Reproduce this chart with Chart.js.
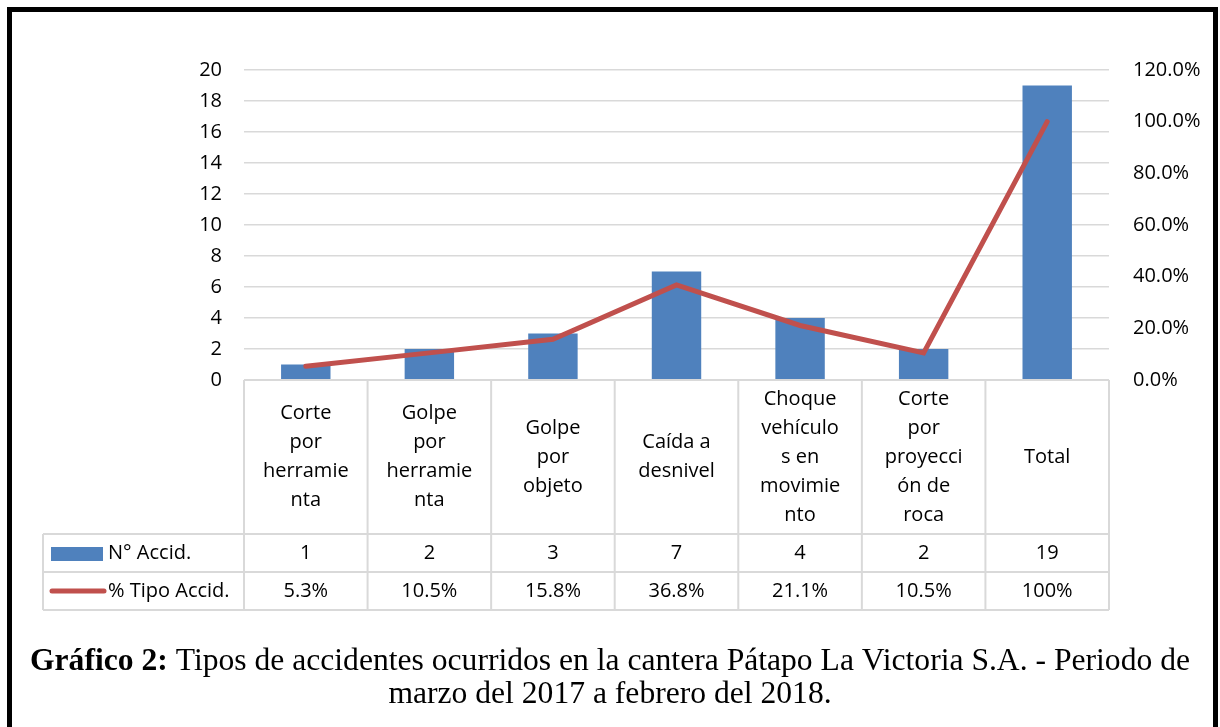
<!DOCTYPE html>
<html>
<head>
    <meta charset="UTF-8">
    <title>Tipos de accidentes</title>
    <script src="https://cdn.jsdelivr.net/npm/chart.js"></script>
    <style>
        html, body { margin: 0; padding: 0; background: #fff; }
        .chart-container { position: relative; width: 1220px; height: 727px; }
    </style>
</head>
<body>
    <div class="chart-container">
        <canvas id="accChart"></canvas>
    </div>
    <script>
        // datos
        const categorias = [
            ['Corte', 'por', 'herramie', 'nta'],
            ['Golpe', 'por', 'herramie', 'nta'],
            ['Golpe', 'por', 'objeto'],
            ['Caída a', 'desnivel'],
            ['Choque', 'vehículo', 's en', 'movimie', 'nto'],
            ['Corte', 'por', 'proyecci', 'ón de', 'roca'],
            ['Total']
        ];
        const numAccid = [1, 2, 3, 7, 4, 2, 19];
        const pctTipo = [0.053, 0.105, 0.158, 0.368, 0.211, 0.105, 1.0];
        const pctEtiquetas = ['5.3%', '10.5%', '15.8%', '36.8%', '21.1%', '10.5%', '100%'];
        const serieNombres = ['N° Accid.', '% Tipo Accid.'];

        const AZUL = '#4f81bd';
        const ROJO = '#c0504d';
        const GRIS = '#d9d9d9';
        const FUENTE = '"Open Sans", sans-serif';

        // tabla de datos + leyenda + titulo, dibujados sobre la escala x
        const tablaPlugin = {
            id: 'tabla',
            afterDraw(chart) {
                const ctx = chart.ctx;
                const x = chart.scales.x;
                const area = chart.chartArea;
                const n = categorias.length;
                const ancho = (area.right - area.left) / n;
                const yTop = area.bottom, yH = 534, yR1 = 572, yR2 = 610, xLeg = 43;

                ctx.save();
                ctx.strokeStyle = GRIS;
                ctx.lineWidth = 2;
                ctx.beginPath();
                ctx.moveTo(area.left, yTop); ctx.lineTo(area.right, yTop);
                [yH, yR1, yR2].forEach(y => { ctx.moveTo(xLeg, y); ctx.lineTo(area.right, y); });
                for (let i = 0; i <= n; i++) {
                    const xx = area.left + i * ancho;
                    ctx.moveTo(xx, yTop); ctx.lineTo(xx, yR2);
                }
                ctx.moveTo(xLeg, yH); ctx.lineTo(xLeg, yR2);
                ctx.stroke();

                ctx.fillStyle = '#000';
                ctx.font = '20px ' + FUENTE;
                ctx.textAlign = 'center';
                ctx.textBaseline = 'middle';
                const lh = 29;
                categorias.forEach((lineas, i) => {
                    const cx = x.getPixelForValue(i);
                    const y0 = (yTop + yH) / 2 - (lineas.length - 1) * lh / 2;
                    lineas.forEach((t, j) => ctx.fillText(t, cx, y0 + j * lh));
                    ctx.fillText(String(numAccid[i]), cx, (yH + yR1) / 2);
                    ctx.fillText(pctEtiquetas[i], cx, (yR1 + yR2) / 2);
                });

                // leyenda
                ctx.fillStyle = AZUL;
                ctx.fillRect(51, 547, 52, 14);
                ctx.strokeStyle = ROJO;
                ctx.lineWidth = 5;
                ctx.lineCap = 'round';
                ctx.beginPath();
                ctx.moveTo(52, 591); ctx.lineTo(104, 591);
                ctx.stroke();
                ctx.fillStyle = '#000';
                ctx.textAlign = 'left';
                ctx.fillText(serieNombres[0], 108, (yH + yR1) / 2);
                ctx.fillText(serieNombres[1], 108, (yR1 + yR2) / 2);

                // titulo
                const b = 'Gráfico 2:';
                const r1 = ' Tipos de accidentes ocurridos en la cantera Pátapo La Victoria S.A. - Periodo de';
                const r2 = 'marzo del 2017 a febrero del 2018.';
                const fb = 'bold 31px "Liberation Serif", serif';
                const fr = '31px "Liberation Serif", serif';
                ctx.font = fb; const wb = ctx.measureText(b).width;
                ctx.font = fr; const w1 = ctx.measureText(r1).width;
                const w2 = ctx.measureText(r2).width;
                const sx = 1160 / (wb + w1);
                ctx.save();
                ctx.translate(610, 0);
                ctx.scale(sx, 1);
                const start = -(wb + w1) / 2;
                ctx.font = fb; ctx.fillText(b, start, 662);
                ctx.font = fr; ctx.fillText(r1, start + wb, 662);
                ctx.fillText(r2, -w2 / 2, 695);
                ctx.restore();

                // marco
                ctx.strokeStyle = '#000';
                ctx.lineWidth = 5;
                ctx.lineCap = 'butt';
                ctx.strokeRect(9.5, 9.5, 1206, 730);
                ctx.restore();
            }
        };

        new Chart(document.getElementById('accChart'), {
            type: 'bar',
            data: {
                labels: categorias.map(c => c.join(' ')),
                datasets: [{
                    type: 'line',
                    label: serieNombres[1],
                    data: pctTipo,
                    borderColor: ROJO,
                    backgroundColor: ROJO,
                    borderWidth: 5,
                    borderCapStyle: 'round',
                    pointRadius: 0,
                    tension: 0,
                    yAxisID: 'y1',
                    order: 0
                }, {
                    label: serieNombres[0],
                    data: numAccid,
                    backgroundColor: AZUL,
                    barPercentage: 0.4,
                    categoryPercentage: 1,
                    yAxisID: 'y',
                    order: 1
                }]
            },
            options: {
                responsive: true,
                maintainAspectRatio: false,
                animation: false,
                layout: { padding: { top: 70, bottom: 347, left: 0, right: 0 } },
                plugins: { legend: { display: false }, tooltip: { enabled: false } },
                scales: {
                    x: { display: false },
                    y: {
                        min: 0, max: 20,
                        ticks: { stepSize: 2, color: '#000', padding: 22, font: { size: 20, family: FUENTE } },
                        grid: { color: GRIS, lineWidth: 1.5, drawTicks: false },
                        border: { display: false },
                        afterFit(s) { s.width = 244; }
                    },
                    y1: {
                        position: 'right',
                        min: 0, max: 1.2,
                        ticks: {
                            stepSize: 0.2, color: '#000', padding: 24,
                            font: { size: 20, family: FUENTE },
                            callback: v => (v * 100).toFixed(1) + '%'
                        },
                        grid: { display: false, drawTicks: false },
                        border: { display: false },
                        afterFit(s) { s.width = 111; }
                    }
                }
            },
            plugins: [tablaPlugin]
        });
    </script>
</body>
</html>
